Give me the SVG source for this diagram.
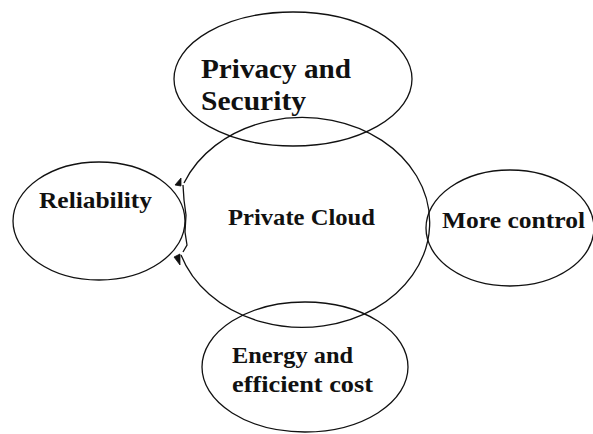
<svg xmlns="http://www.w3.org/2000/svg" width="593" height="434" viewBox="0 0 593 434">
<style>
.s{fill:none;stroke:#111;stroke-width:1.3}
.t{font-family:"Liberation Serif","Times New Roman",serif;font-weight:bold;font-size:24px;fill:#111}
.a{fill:#111;stroke:#111;stroke-width:0.8}
</style>
<rect width="593" height="434" fill="#fff"/>
<g id="privacy">
<ellipse class="s" cx="293" cy="79" rx="119" ry="67"/>
<text class="t" x="201" y="78" style="font-size:27px" textLength="150" lengthAdjust="spacingAndGlyphs">Privacy and</text>
<text class="t" x="201" y="110" style="font-size:27px" textLength="105" lengthAdjust="spacingAndGlyphs">Security</text>
</g>
<g id="reliability">
<ellipse class="s" cx="99" cy="221" rx="86" ry="59"/>
<text class="t" x="39" y="208" textLength="113" lengthAdjust="spacingAndGlyphs">Reliability</text>
</g>
<g id="more-control">
<ellipse class="s" cx="510" cy="228" rx="84" ry="58"/>
<text class="t" x="442" y="228" textLength="143" lengthAdjust="spacingAndGlyphs">More control</text>
</g>
<g id="energy">
<ellipse class="s" cx="305" cy="367" rx="103" ry="65"/>
<text class="t" x="232" y="363" textLength="121" lengthAdjust="spacingAndGlyphs">Energy and</text>
<text class="t" x="232" y="392" textLength="141" lengthAdjust="spacingAndGlyphs">efficient cost</text>
</g>
<g id="private-cloud">
<path class="s" d="M184,183 A127.5,105 0 1 1 181,255"/>
<text class="t" x="228" y="225" textLength="147" lengthAdjust="spacingAndGlyphs">Private Cloud</text>
</g>
<g id="connectors">
<polyline class="s" points="183,185 184,200 186,215 185,232 187,245 183,252"/>
<polygon class="a" points="175,185 181,178 181,186"/>
<polygon class="a" points="174,257 180,254 180,265"/>
</g>
</svg>
